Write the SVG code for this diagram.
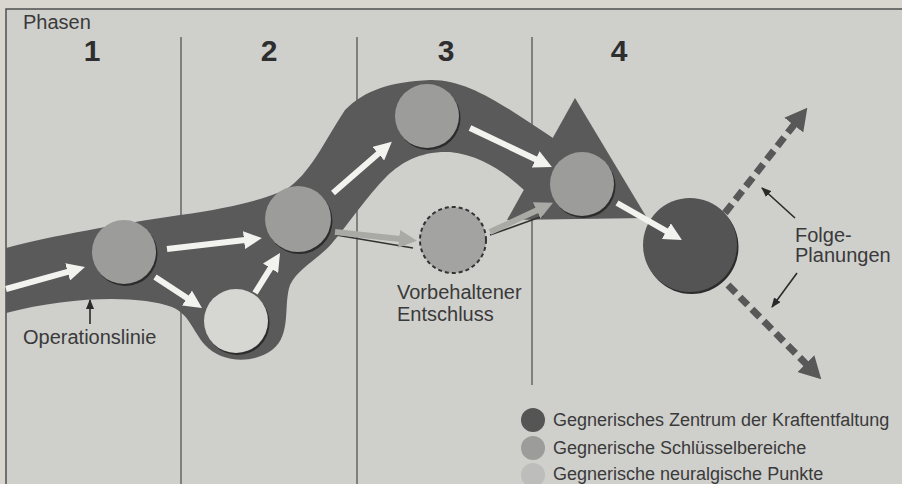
<svg xmlns="http://www.w3.org/2000/svg" width="902" height="484" viewBox="0 0 902 484">
<defs>
<style>
.lbl{font-family:"Liberation Sans",Arial,sans-serif;font-size:20px;fill:#3a3a3a}
.leg{font-family:"Liberation Sans",Arial,sans-serif;font-size:18px;fill:#3a3a3a}
.num{font-family:"Liberation Sans",Arial,sans-serif;font-size:30px;font-weight:bold;fill:#2e2e2e;text-anchor:middle}
.phase{stroke:#4a4a4a;stroke-width:1.2}
.wa{stroke:#f2f2ef;stroke-width:6;fill:none}
.ga{stroke:#a9aaa6;stroke-width:6;fill:none}
.da{stroke:#585858;stroke-width:7;fill:none;stroke-dasharray:11 6}
.thin{stroke:#2a2a2a;stroke-width:1.6;fill:none}
.shadow{fill:#2c2c2c}
</style>
<marker id="hw" markerUnits="userSpaceOnUse" viewBox="0 0 18 18" markerWidth="18" markerHeight="18" refX="1" refY="9" orient="auto"><path d="M0,0 L18,9 L0,18 Z" fill="#f2f2ef"/></marker>
<marker id="hg" markerUnits="userSpaceOnUse" viewBox="0 0 18 18" markerWidth="18" markerHeight="18" refX="1" refY="9" orient="auto"><path d="M0,0 L18,9 L0,18 Z" fill="#a9aaa6"/></marker>
<marker id="hd" markerUnits="userSpaceOnUse" viewBox="0 0 22 24" markerWidth="22" markerHeight="24" refX="1" refY="12" orient="auto"><path d="M0,0 L22,12 L0,24 Z" fill="#585858"/></marker>
<marker id="ht" markerUnits="userSpaceOnUse" viewBox="0 0 10 8" markerWidth="10" markerHeight="8" refX="9" refY="4" orient="auto"><path d="M0,0 L10,4 L0,8 Z" fill="#2a2a2a"/></marker>
</defs>
<rect x="0" y="0" width="902" height="484" fill="#d9d6cf"/>
<rect x="6" y="9" width="900" height="480" fill="#cfcfcc" stroke="#505050" stroke-width="1.5"/>
<g id="phases">
<line class="phase" x1="181" y1="37" x2="181" y2="484"/>
<line class="phase" x1="357" y1="37" x2="357" y2="484"/>
<line class="phase" x1="532" y1="37" x2="532" y2="385"/>
<text class="lbl" x="23" y="29">Phasen</text>
<text class="num" x="92" y="61">1</text>
<text class="num" x="269" y="61">2</text>
<text class="num" x="446" y="61">3</text>
<text class="num" x="619" y="61">4</text>
</g>
<g id="operationslinie-band">
<path fill="#5a5a5a" d="M6 248 C50 236,120 224,180 215 C230 208,262 200,285 190 C310 175,325 140,345 110 C365 90,390 82,430 80 C470 79,510 110,556 140 L540 200 L524 190 C505 172,480 155,450 152 C420 151,402 162,387 176 C367 196,350 222,333 242 C318 260,298 268,290 285 C283 305,292 335,272 350 C252 365,220 362,205 345 C192 330,190 315,172 307 C140 295,70 296,6 313 Z"/>
<polygon fill="#5a5a5a" points="575,98 647,218 507,220"/>
</g>
<g id="nodes">
<g id="c1"><circle class="shadow" cx="125.5" cy="254" r="32"/><circle cx="124" cy="252" r="32" fill="#9c9c9a"/></g>
<g id="c-white"><circle class="shadow" cx="237.5" cy="323" r="32"/><circle cx="236" cy="321" r="32" fill="#d6d6d3"/></g>
<g id="c2"><circle class="shadow" cx="299.5" cy="221" r="33"/><circle cx="298" cy="219" r="33" fill="#9c9c9a"/></g>
<g id="c3"><circle class="shadow" cx="428.5" cy="118" r="32"/><circle cx="427" cy="116" r="32" fill="#9c9c9a"/></g>
<g id="c4"><circle class="shadow" cx="583.5" cy="186" r="32"/><circle cx="582" cy="184" r="32" fill="#9c9c9a"/></g>
<g id="c-dashed"><circle cx="453" cy="240" r="33" fill="#a3a3a1" stroke="#333" stroke-width="2" stroke-dasharray="4 3"/></g>
<g id="c-center"><circle class="shadow" cx="691.5" cy="247" r="47"/><circle cx="690" cy="245" r="47" fill="#545454"/></g>
</g>
<g id="connectors">
<line class="wa" x1="6" y1="289" x2="68.6" y2="271.6" marker-end="url(#hw)"/>
<line class="wa" x1="167" y1="249" x2="245" y2="240" marker-end="url(#hw)"/>
<line class="wa" x1="155" y1="277" x2="187.8" y2="298.6" marker-end="url(#hw)"/>
<line class="wa" x1="255" y1="293" x2="271" y2="267.4" marker-end="url(#hw)"/>
<line class="wa" x1="333" y1="193" x2="379" y2="153" marker-end="url(#hw)"/>
<line class="wa" x1="470" y1="128" x2="536.6" y2="159.7" marker-end="url(#hw)"/>
<line class="wa" x1="617" y1="203" x2="667.2" y2="231.6" marker-end="url(#hw)"/>
<line stroke="#333" stroke-width="1.6" x1="336" y1="235" x2="413" y2="248"/>
<line class="ga" x1="335" y1="232" x2="400" y2="239" marker-end="url(#hg)"/>
<line stroke="#333" stroke-width="1.6" x1="490" y1="235" x2="543" y2="216"/>
<line class="ga" x1="490" y1="232" x2="537.6" y2="210" marker-end="url(#hg)"/>
<line class="da" x1="725" y1="213" x2="794.4" y2="124.3" marker-end="url(#hd)"/>
<line class="da" x1="728" y1="285" x2="806.5" y2="364.4" marker-end="url(#hd)"/>
<line class="thin" x1="795" y1="218" x2="762" y2="188" marker-end="url(#ht)"/>
<line class="thin" x1="797" y1="273" x2="772" y2="307" marker-end="url(#ht)"/>
<line class="thin" x1="90" y1="324" x2="90" y2="300" marker-end="url(#ht)"/>
</g>
<g id="labels">
<text class="lbl" x="23" y="344">Operationslinie</text>
<text class="lbl" x="397" y="299">Vorbehaltener</text>
<text class="lbl" x="397" y="321">Entschluss</text>
<text class="lbl" x="795" y="242">Folge-</text>
<text class="lbl" x="795" y="262">Planungen</text>
</g>
<g id="legend">
<circle cx="533" cy="420" r="12" fill="#555"/>
<text class="leg" x="553" y="426">Gegnerisches Zentrum der Kraftentfaltung</text>
<circle cx="533" cy="448" r="12" fill="#9c9c9a"/>
<text class="leg" x="553" y="454">Gegnerische Schlüsselbereiche</text>
<circle cx="533" cy="475" r="12" fill="#bdbdbb"/>
<text class="leg" x="553" y="480">Gegnerische neuralgische Punkte</text>
</g>
</svg>
